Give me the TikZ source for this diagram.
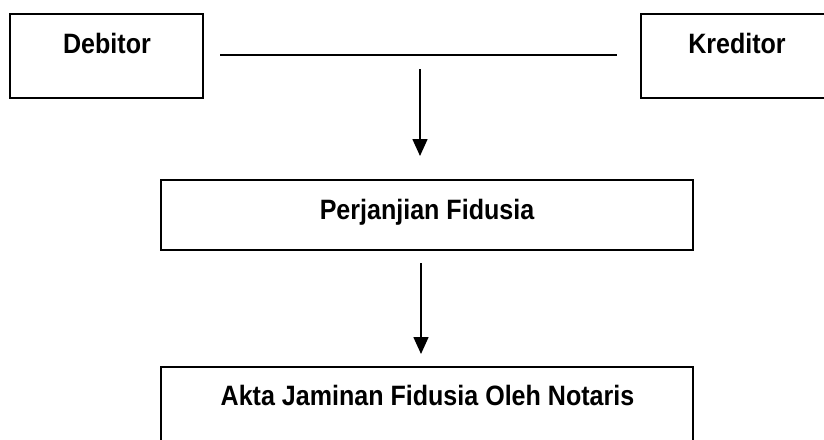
\documentclass[tikz,border=0pt]{standalone}
\usepackage{fontspec}
\setmainfont{Liberation Sans}
\usetikzlibrary{arrows.meta}
\tikzset{
  boxshape/.style={draw=black, line width=1.6pt, rectangle, inner sep=0pt},
  lbl/.style={anchor=base, inner sep=0pt, font=\fontsize{28pt}{30pt}\selectfont\bfseries},
  conn/.style={draw=black, line width=1.6pt},
  arr/.style={conn, -{Triangle[width=15pt,length=17pt]}}
}
\newcommand{\narrow}[1]{\scalebox{0.895}[1]{#1}}
\begin{document}
\begin{tikzpicture}[x=1pt,y=-1pt]
\useasboundingbox (0,0) rectangle (824,439);
% boxes
\node[boxshape, minimum width=193pt, minimum height=84pt] (deb) at (106.5,56) {};
\node[boxshape, minimum width=192pt, minimum height=84pt] (kre) at (737,56) {};
\node[boxshape, minimum width=532pt, minimum height=70pt] (perj) at (427,215) {};
\node[boxshape, minimum width=532pt, minimum height=80pt] (akta) at (427,407) {};
% labels
\node[lbl] (debt) at (107,53) {\narrow{Debitor}};
\node[lbl] (kret) at (737,53) {\narrow{Kreditor}};
\node[lbl] (perjt) at (427,219) {\narrow{Perjanjian Fidusia}};
\node[lbl] (aktat) at (427.5,405) {\narrow{Akta Jaminan Fidusia Oleh Notaris}};
% connectors
\coordinate (l1) at (220,55);
\coordinate (l2) at (617,55);
\coordinate (a1s) at (420,69);
\coordinate (a1e) at (420,156);
\coordinate (a2s) at (421,263);
\coordinate (a2e) at (421,354);
\draw[conn] (l1) -- (l2);
\draw[arr] (a1s) -- (a1e);
\draw[arr] (a2s) -- (a2e);
\end{tikzpicture}
\end{document}
